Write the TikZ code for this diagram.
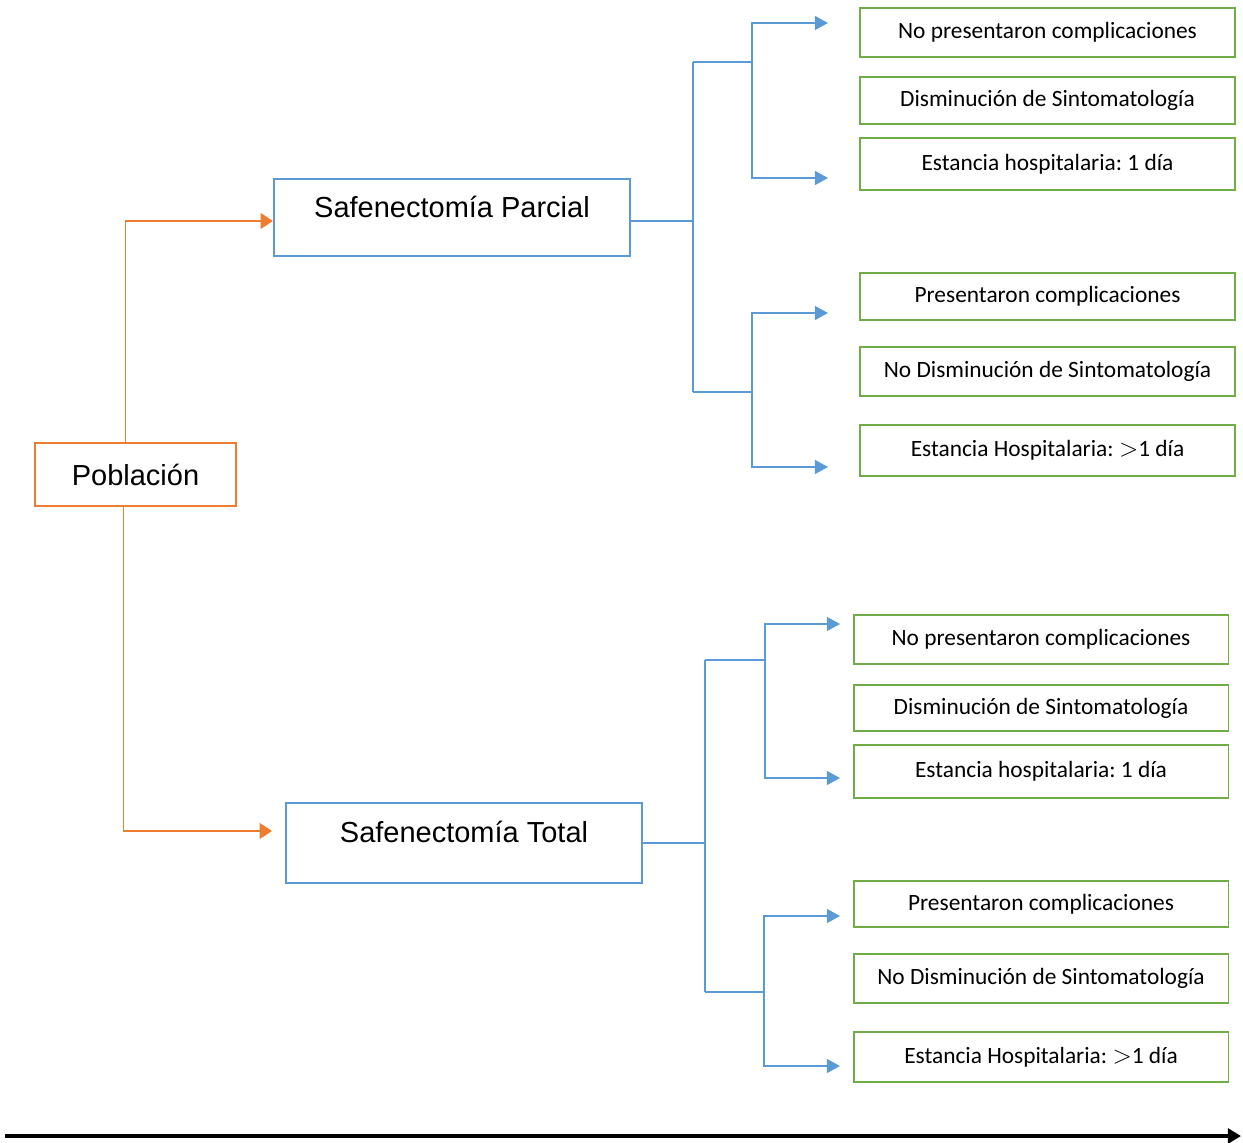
\documentclass[tikz,border=0pt]{standalone}
\usepackage{fontspec}
\setmainfont{Carlito}
\newfontfamily\arialfont{Liberation Sans}
\usetikzlibrary{%
  arrows.meta%
}
\definecolor{naranja}{HTML}{ED7D31}
\definecolor{azul}{HTML}{5B9BD5}
\definecolor{verde}{HTML}{70AD47}
\frenchspacing

\begin{document}
\begin{tikzpicture}[x=0.02cm, y=-0.02cm,
    caja/.style={draw=verde, line width=1.1pt, minimum width=7.5cm, inner sep=0pt,
      font=\fontsize{13.3}{16}\selectfont},
    grupo/.style={draw=azul, line width=1.3pt, minimum width=7.12cm, inner sep=0pt},
    titulo/.style={anchor=base, font=\arialfont\fontsize{16.5}{19}\selectfont},
    rama/.style={azul, line width=0.8pt},
    flecha/.style={rama, -{Triangle[length=7.5pt,width=8pt]}},
    flechanar/.style={naranja, line width=0.8pt, -{Triangle[length=7pt,width=9pt]}}]
  \useasboundingbox (0,0) rectangle (1243,1142);

  % poblacion y grupos
  \node [draw=naranja, line width=1.3pt, minimum width=4.02cm, minimum height=1.26cm,
    font=\arialfont\fontsize{16.5}{19}\selectfont] (pob) at (135.5,474.5) {Población};
  \node [grupo, minimum height=1.54cm] (parcial) at (452,217.5) {};
  \node [titulo] (parcialtxt) at (452,217) {Safenectomía Parcial};
  \node [grupo, minimum height=1.6cm] (total) at (464,843) {};
  \node [titulo] (totaltxt) at (464,842) {Safenectomía Total};

  \coordinate (tin) at (272,831);
  \draw [flechanar] ([xshift=-0.2cm]pob.north) |- ([yshift=-0.07cm]parcial.west);
  \draw [flechanar] ([xshift=-0.24cm]pob.south) |- (tin);

  % resultados, safenectomia parcial
  \node [caja, minimum height=0.98cm] (p1) at (1047.5,32.5) {No presentaron complicaciones};
  \node [caja, minimum height=0.94cm] (p2) at (1047.5,100.5) {Disminución de Sintomatología};
  \node [caja, minimum height=1.04cm] (p3) at (1047.5,164) {Estancia hospitalaria: 1 día};
  \node [caja, minimum height=0.94cm] (p4) at (1047.5,296.5) {Presentaron complicaciones};
  \node [caja, minimum height=0.98cm] (p5) at (1047.5,371.5) {No Disminución de Sintomatología};
  \node [caja, minimum height=1.02cm] (p6) at (1047.5,450.5) {Estancia Hospitalaria: $>$1 día};

  \coordinate (pa) at (693,62);
  \coordinate (pb) at (693,392);
  \coordinate (pa1) at (752,62);
  \coordinate (pb1) at (752,392);
  \coordinate (pe1) at (828,23);
  \coordinate (pe3) at (828,178);
  \coordinate (pe4) at (828,313);
  \coordinate (pe6) at (828,467);
  \draw [rama] ([yshift=-0.07cm]parcial.east) -- ([yshift=-0.07cm]parcial.east -| pa);
  \draw [rama] (pa) -- (pb);
  \draw [rama] (pa) -- (pa1);
  \draw [rama] (pb) -- (pb1);
  \draw [flecha] (pa1) |- (pe1);
  \draw [flecha] (pa1) |- (pe3);
  \draw [flecha] (pb1) |- (pe4);
  \draw [flecha] (pb1) |- (pe6);

  % resultados, safenectomia total
  \node [caja, minimum height=0.98cm] (t1) at (1041,639.5) {No presentaron complicaciones};
  \node [caja, minimum height=0.92cm] (t2) at (1041,708) {Disminución de Sintomatología};
  \node [caja, minimum height=1.06cm] (t3) at (1041,771.5) {Estancia hospitalaria: 1 día};
  \node [caja, minimum height=0.92cm] (t4) at (1041,904) {Presentaron complicaciones};
  \node [caja, minimum height=0.98cm] (t5) at (1041,978.5) {No Disminución de Sintomatología};
  \node [caja, minimum height=1.0cm] (t6) at (1041,1057) {Estancia Hospitalaria: $>$1 día};

  \coordinate (ta) at (705,660);
  \coordinate (tb) at (705,992);
  \coordinate (ta1) at (765,660);
  \coordinate (tb1) at (764,992);
  \coordinate (te1) at (840,624);
  \coordinate (te3) at (840,778);
  \coordinate (te4) at (840,916);
  \coordinate (te6) at (840,1066);
  \draw [rama] (total.east) -- (total.east -| ta);
  \draw [rama] (ta) -- (tb);
  \draw [rama] (ta) -- (ta1);
  \draw [rama] (tb) -- (tb1);
  \draw [flecha] (ta1) |- (te1);
  \draw [flecha] (ta1) |- (te3);
  \draw [flecha] (tb1) |- (te4);
  \draw [flecha] (tb1) |- (te6);

  % eje del tiempo
  \coordinate (ax0) at (5,1136);
  \coordinate (ax1) at (1241,1136);
  \draw [line width=2.3pt, -{Triangle[length=7.5pt,width=8.5pt]}] (ax0) -- (ax1);
\end{tikzpicture}
\end{document}
